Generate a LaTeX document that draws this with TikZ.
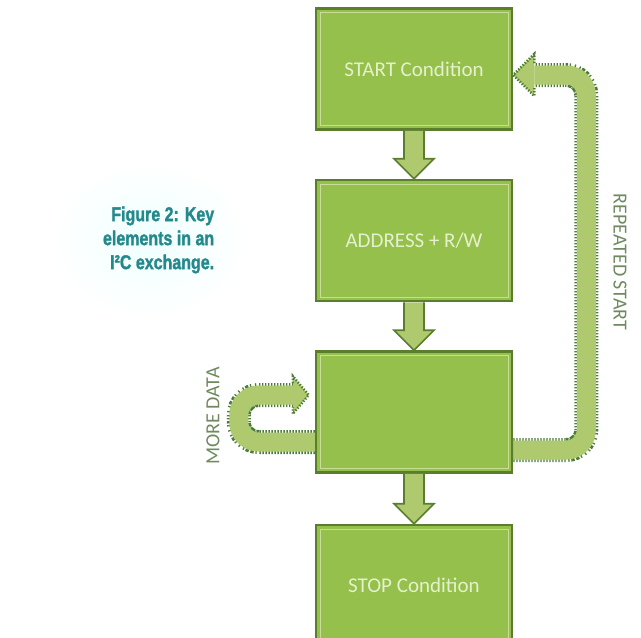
\documentclass[tikz,border=0pt]{standalone}
\usepackage{fontspec}
\setmainfont{Carlito}
\newfontfamily\capfont[BoldFeatures={FakeBold=1.6}]{Liberation Sans}
\usepackage{xcolor}
\usetikzlibrary{positioning,calc}

\definecolor{boxedge}{HTML}{5A7D2E}
\definecolor{boxfill}{HTML}{94C04B}
\definecolor{boxrim}{HTML}{C8DD98}
\definecolor{boxtext}{HTML}{E6F0CC}
\definecolor{loopfill}{HTML}{AEC96E}
\definecolor{loopdot}{HTML}{4C7B3A}
\definecolor{labelgrey}{HTML}{6E8A5E}
\definecolor{capteal}{HTML}{24898C}

\begin{document}
\begin{tikzpicture}[x=1pt, y=-1pt,
  stepbox/.style={draw=boxedge, line width=2.5pt, fill=boxfill,
    minimum width=196pt, minimum height=121pt, text=boxtext,
    font=\fontsize{21}{25}\selectfont,
    path picture={\draw[boxrim, line width=1pt]
      ([shift={(4pt,-4pt)}]path picture bounding box.north west) rectangle
      ([shift={(-4pt,4pt)}]path picture bounding box.south east);}},
  flowarrow/.style={draw=boxedge, line width=1.6pt, fill=loopfill},
  loopedge/.style={loopdot, line width=24pt, dash pattern=on 1.3pt off 1.7pt, rounded corners=20pt},
  loopband/.style={loopfill, line width=19pt, rounded corners=20pt},
  loophead/.style={loopdot, line width=2.5pt, dash pattern=on 1.3pt off 1.7pt},
  sidelabel/.style={text=labelgrey, font=\fontsize{20}{24}\selectfont},
  figcap/.style={text=capteal, align=right, anchor=east, xscale=0.8,
    font=\capfont\bfseries\fontsize{20}{24}\selectfont},
]
\useasboundingbox (0,0) rectangle (641,638);

% soft glow behind the caption
\shade[inner color=cyan!6, outer color=white] (150,240) ellipse (100pt and 80pt);

% the four steps
\node[stepbox] (start) at (414,69) {START Condition};
\node[stepbox, below=48pt of start] (addr) {ADDRESS + R/W};
\node[stepbox, below=48pt of addr] (data) {};
\node[stepbox, below=50pt of data] (stop) {STOP Condition};

\foreach \a/\b in {start/addr, addr/data, data/stop}{
  \draw[flowarrow] let \p1=(\a.south), \p2=(\b.north) in
    (\x1-10pt,\y1) -- (\x1-10pt,\y2+20pt) -- (\x1-20pt,\y2+20pt) -- (\x2,\y2)
    -- (\x1+20pt,\y2+20pt) -- (\x1+10pt,\y2+20pt) -- (\x1+10pt,\y1);
}

% repeated start loop
\coordinate (rtip) at ([yshift=-6pt]start.east);
\foreach \s in {loopedge,loopband}{
  \draw[\s] ([yshift=-38pt]data.east) -- ++(73pt,0) |- ([xshift=21pt]rtip);
}
\fill[loopfill] (rtip) -- ++(21pt,21pt) -- ++(0,-42pt) -- cycle;
\draw[loophead] ($(rtip)+(21pt,12pt)$) -- ++(0,9pt) -- (rtip) -- ++(21pt,-21pt) -- ++(0,9pt);

% more data loop
\coordinate (ltip) at ([xshift=-6pt,yshift=17pt]data.west);
\foreach \s in {loopedge,loopband}{
  \draw[\s] ([yshift=-30pt]data.west) -- ++(-76pt,0) |- ([xshift=-16pt]ltip);
}
\fill[loopfill] (ltip) -- ++(-16pt,19pt) -- ++(0,-38pt) -- cycle;
\draw[loophead] ($(ltip)+(-16pt,12pt)$) -- ++(0,7pt) -- (ltip) -- ++(-16pt,-19pt) -- ++(0,7pt);

% labels
\node[sidelabel, rotate=90] (more) at (213,416) {MORE DATA};
\node[sidelabel, rotate=-90] (rep) at (620,262) {REPEATED START};
\node[figcap] (fig) at (217,240) {Figure 2: Key\\elements in an\\I²C exchange.};
\end{tikzpicture}
\end{document}
